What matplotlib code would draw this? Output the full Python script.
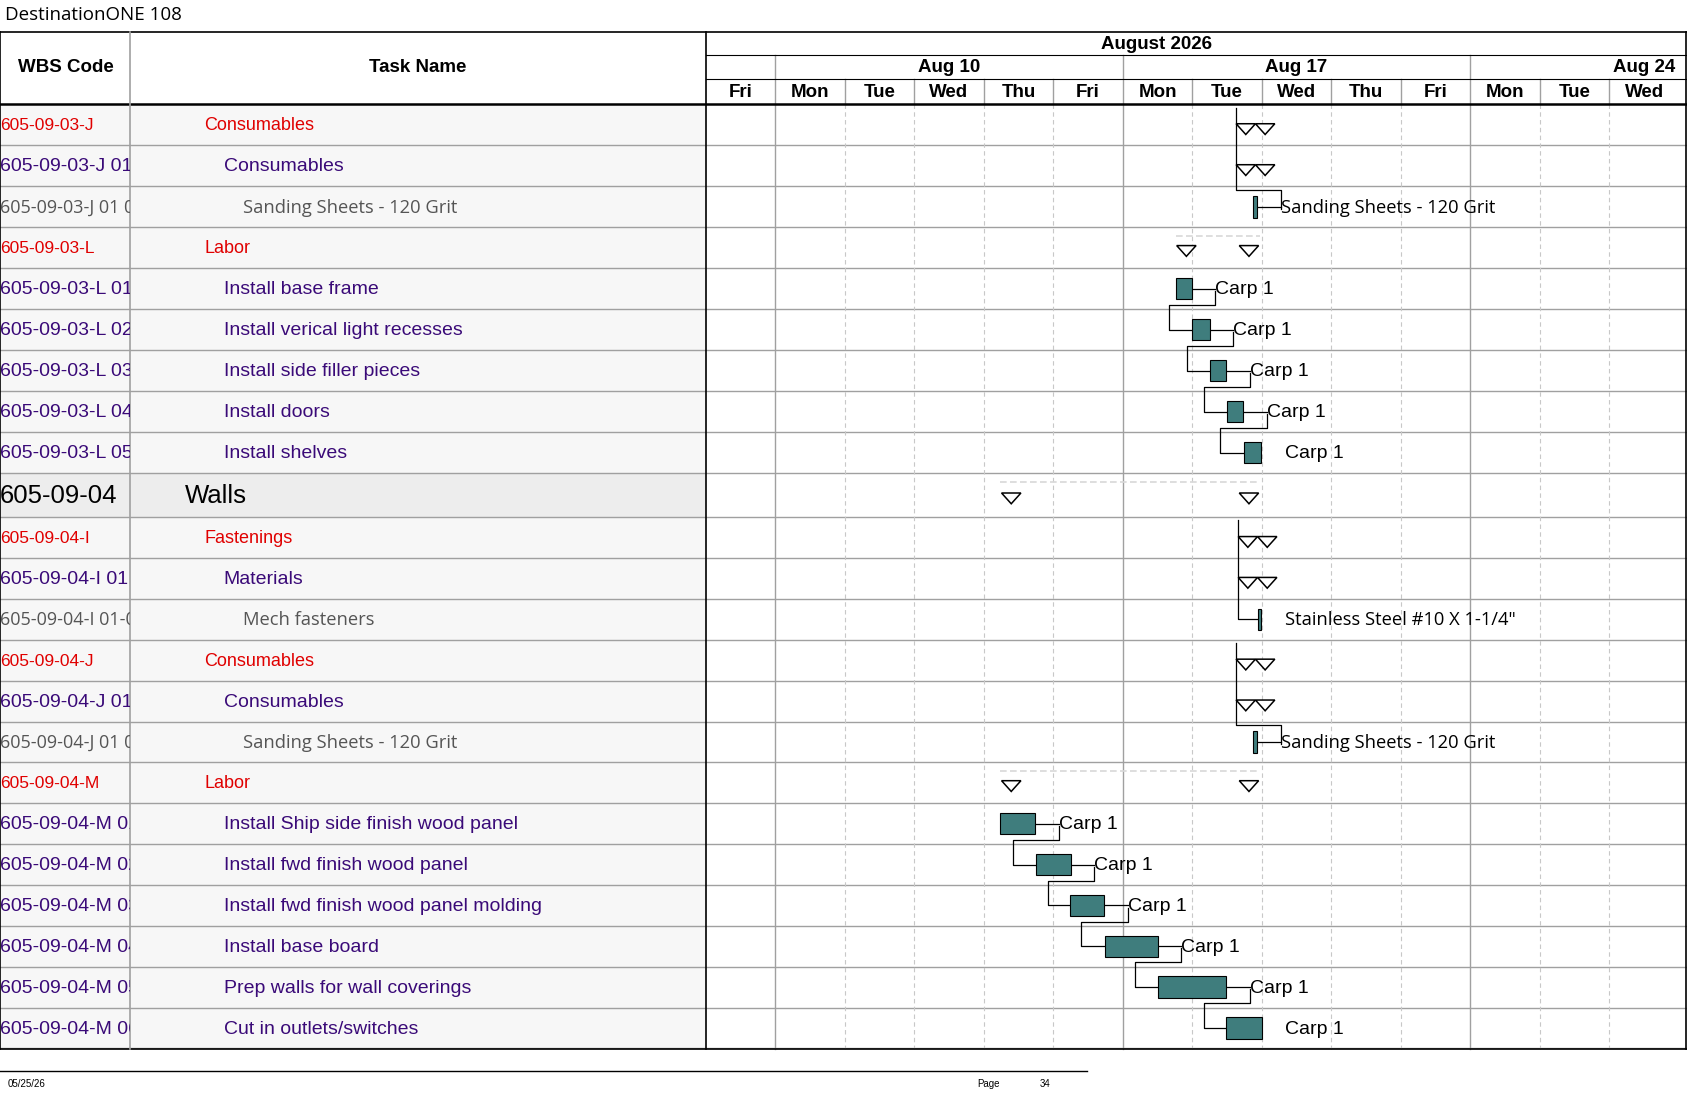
import matplotlib
matplotlib.use("Agg")
import matplotlib.pyplot as plt
from matplotlib.patches import Rectangle, Polygon

# ---------------- data ----------------
wbs = ["605-09-03-J", "605-09-03-J 01", "605-09-03-J 01 01", "605-09-03-L",
       "605-09-03-L 01", "605-09-03-L 02", "605-09-03-L 03", "605-09-03-L 04", "605-09-03-L 05",
       "605-09-04", "605-09-04-I", "605-09-04-I 01", "605-09-04-I 01-01",
       "605-09-04-J", "605-09-04-J 01", "605-09-04-J 01 01", "605-09-04-M",
       "605-09-04-M 01", "605-09-04-M 02", "605-09-04-M 03", "605-09-04-M 04", "605-09-04-M 05", "605-09-04-M 06"]
tasks = ["Consumables", "Consumables", "Sanding Sheets - 120 Grit", "Labor",
         "Install base frame", "Install verical light recesses", "Install side filler pieces",
         "Install doors", "Install shelves", "Walls", "Fastenings", "Materials", "Mech fasteners",
         "Consumables", "Consumables", "Sanding Sheets - 120 Grit", "Labor",
         "Install Ship side finish wood panel", "Install fwd finish wood panel",
         "Install fwd finish wood panel molding", "Install base board",
         "Prep walls for wall coverings", "Cut in outlets/switches"]
levels = [1, 2, 3, 1, 2, 2, 2, 2, 2, 0, 1, 2, 3, 1, 2, 3, 1, 2, 2, 2, 2, 2, 2]
# kind: 's' summary, 't' task, 'm' material
kinds = ['s', 's', 'm', 's', 't', 't', 't', 't', 't', 's', 's', 's', 'm', 's', 's', 'm', 's',
         't', 't', 't', 't', 't', 't']
# start / duration in working days from Fri Aug 7
starts = [7.63, 7.63, 7.88, 6.76, 6.76, 7.00, 7.25, 7.50, 7.74, 4.24, 7.66, 7.66, 7.94,
          7.63, 7.63, 7.88, 4.24, 4.24, 4.75, 5.24, 5.74, 6.50, 7.49]
durs = [0.28, 0.28, 0.05, 1.21, 0.23, 0.25, 0.24, 0.23, 0.25, 3.73, 0.28, 0.28, 0.05,
        0.28, 0.28, 0.05, 3.73, 0.50, 0.50, 0.49, 0.76, 0.99, 0.51]
labels = ["", "", "Sanding Sheets - 120 Grit", "", "Carp 1", "Carp 1", "Carp 1", "Carp 1", "Carp 1",
          "", "", "", "Stainless Steel #10 X 1-1/4\"", "", "", "Sanding Sheets - 120 Grit", "",
          "Carp 1", "Carp 1", "Carp 1", "Carp 1", "Carp 1", "Carp 1"]
day_names = ["Fri", "Mon", "Tue", "Wed", "Thu", "Fri", "Mon", "Tue", "Wed", "Thu", "Fri", "Mon", "Tue", "Wed"]
week_labels = ["Aug 10", "Aug 17", "Aug 24"]
month_label = "August 2026"

# ---------------- layout (reference pixel space) ----------------
W, H = 1568, 1020
X0, DAYW = 656, 64.6
def dx(d):
    return X0 + DAYW * d

ARIAL = ['Liberation Sans', 'DejaVu Sans']
CAL = ['Open Sans', 'DejaVu Sans']

fig = plt.figure(figsize=(16.87, 10.97), dpi=100)
ax = fig.add_axes([0, 0, 1, 1])
ax.set_xlim(0, W); ax.set_ylim(H, 0); ax.axis('off')
axw = fig.add_axes([0, 0, 121 / W, 1], zorder=5)
axw.set_xlim(0, 121); axw.set_ylim(H, 0); axw.axis('off'); axw.patch.set_alpha(0)

TOP, HDR, BOT = 30, 97, 975
row_h = [38.1] * 9 + [41] + [38.0] * 13
row_top = []
y = HDR
for h in row_h:
    row_top.append(y); y += h

grid = '#A0A0A0'
for i, (t, h) in enumerate(zip(row_top, row_h)):
    fc = '#EDEDED' if levels[i] == 0 else '#F7F7F7'
    ax.add_patch(Rectangle((0, t), X0, h, fc=fc, ec='none', zorder=0))
    ax.plot([0, W], [t + h, t + h], color=grid, lw=1, zorder=1)

for k in range(1, 14):
    x = dx(k)
    if day_names[k] == "Mon":
        ax.plot([x, x], [51, BOT], color=grid, lw=1, zorder=1)
    else:
        ax.plot([x, x], [73, 97], color=grid, lw=1, zorder=1)
        ax.plot([x, x], [97, BOT], color='#C8C8C8', lw=0.8, ls=(0, (4, 3)), zorder=1)

ax.plot([0, W], [TOP, TOP], color='black', lw=1.2)
ax.plot([0, W], [HDR, HDR], color='black', lw=1.8)
ax.plot([0, W], [BOT, BOT], color='black', lw=1.2)
for x in [0, 121, X0]:
    ax.plot([x, x], [TOP, BOT], color='black' if x != 121 else grid, lw=1.2)
ax.plot([X0, W], [51, 51], color='black', lw=0.8)
ax.plot([X0, W], [73, 73], color='black', lw=0.8)
ax.plot([W - 1, W - 1], [TOP, BOT], color='black', lw=1.2)

ax.text(5, 14, "DestinationONE 108", fontsize=13.5, va='center', ha='left', family=CAL)
hk = dict(fontsize=13.5, weight='bold', ha='center', va='center', family=ARIAL)
ax.text(61, 63, "WBS Code", **hk)
ax.text(388, 63, "Task Name", **hk)
ax.text(1075, 41, month_label, **hk)
ax.text(882, 63, week_labels[0], **hk)
ax.text(1205, 63, week_labels[1], **hk)
ax.text(1528, 63, week_labels[2], **hk)
for k, nm in enumerate(day_names):
    ax.text(dx(k) + DAYW / 2, 86, nm, **hk)

colors = {0: 'black', 1: '#E00000', 2: '#3A0A78', 3: '#555555'}
wsz = {0: 18.5, 1: 12.5, 2: 14, 3: 13}
tsz = {0: 18.5, 1: 13, 2: 14, 3: 13.2}
tx = {0: 172, 1: 190, 2: 208, 3: 226}
for i in range(len(wbs)):
    yc = row_top[i] + row_h[i] / 2 + 1
    lv = levels[i]
    axw.text(0, yc, wbs[i], fontsize=wsz[lv], color=colors[lv], va='center', ha='left',
             family=CAL if lv == 3 else ARIAL, clip_on=True)
    ax.text(tx[lv], yc, tasks[i], fontsize=tsz[lv], color=colors[lv], va='center', ha='left',
            family=CAL if lv == 3 else ARIAL)

teal = '#3F7D7D'
def tri(xc, yc, s=9):
    ax.add_patch(Polygon([(xc - s, yc - 5), (xc + s, yc - 5), (xc, yc + 5)], closed=True,
                         fc='white', ec='black', lw=1.1, zorder=4))

for i in range(len(wbs)):
    t0 = row_top[i]; h = row_h[i]; yc = t0 + h / 2
    x1, x2 = dx(starts[i]), dx(starts[i] + durs[i])
    if kinds[i] == 's':
        if durs[i] > 0.5:
            ax.plot([x1, x2], [t0 + 8, t0 + 8], color='#D8D8D8', lw=1.2, ls=(0, (4, 2)), zorder=2)
            tri(x1 + 10, yc + 3); tri(x2 - 10, yc + 3)
        else:
            tri(x1 + 9, yc + 4); tri(x1 + 27, yc + 4)
    elif kinds[i] == 't':
        ax.add_patch(Rectangle((x1, yc - 10), x2 - x1, 20, fc=teal, ec='black', lw=0.8, zorder=4))
        if i + 1 < len(wbs) and kinds[i + 1] == 't':
            lx = x2 + 22
            ax.plot([x2, lx], [yc, yc], color='black', lw=0.9, zorder=3)
            ax.text(lx, yc + 1, labels[i], fontsize=14, va='center', ha='left', zorder=5, family=ARIAL)
            nx1 = dx(starts[i + 1]); ny = row_top[i + 1] + row_h[i + 1] / 2
            drop = x2 - 21
            ax.plot([lx, lx, drop, drop, nx1], [yc + 2, yc + 15, yc + 15, ny, ny],
                    color='black', lw=0.9, zorder=3)
        else:
            ax.text(x2 + 22, yc + 1, labels[i], fontsize=14, va='center', ha='left', zorder=5, family=ARIAL)
    else:  # material
        ax.add_patch(Rectangle((x1, yc - 10), max(x2 - x1, 3), 20, fc=teal, ec='black', lw=0.8, zorder=4))
        vx = dx(starts[i - 1])
        top = row_top[i - 2] + 3
        if starts[i] + durs[i] < 7.95:
            lx = x2 + 22
            ax.plot([vx, vx, lx, lx], [top, t0 + 3, t0 + 3, yc + 2], color='black', lw=0.9, zorder=3)
            ax.plot([x2, lx], [yc, yc], color='black', lw=0.9, zorder=3)
            ax.text(lx, yc + 1, labels[i], fontsize=13.2, va='center', ha='left', family=CAL)
        else:
            ax.plot([vx, vx, x1], [top, yc, yc], color='black', lw=0.9, zorder=3)
            ax.text(x2 + 22, yc + 1, labels[i], fontsize=13.2, va='center', ha='left', family=CAL)

ax.plot([0, 1010], [996, 996], color='black', lw=1)
ax.text(7, 1008, "05/25/26", fontsize=7, va='center', family=ARIAL)
ax.text(908, 1008, "Page", fontsize=7, va='center', family=ARIAL)
ax.text(966, 1008, "34", fontsize=7, va='center', family=ARIAL)

fig.savefig("out.png", dpi=100)
